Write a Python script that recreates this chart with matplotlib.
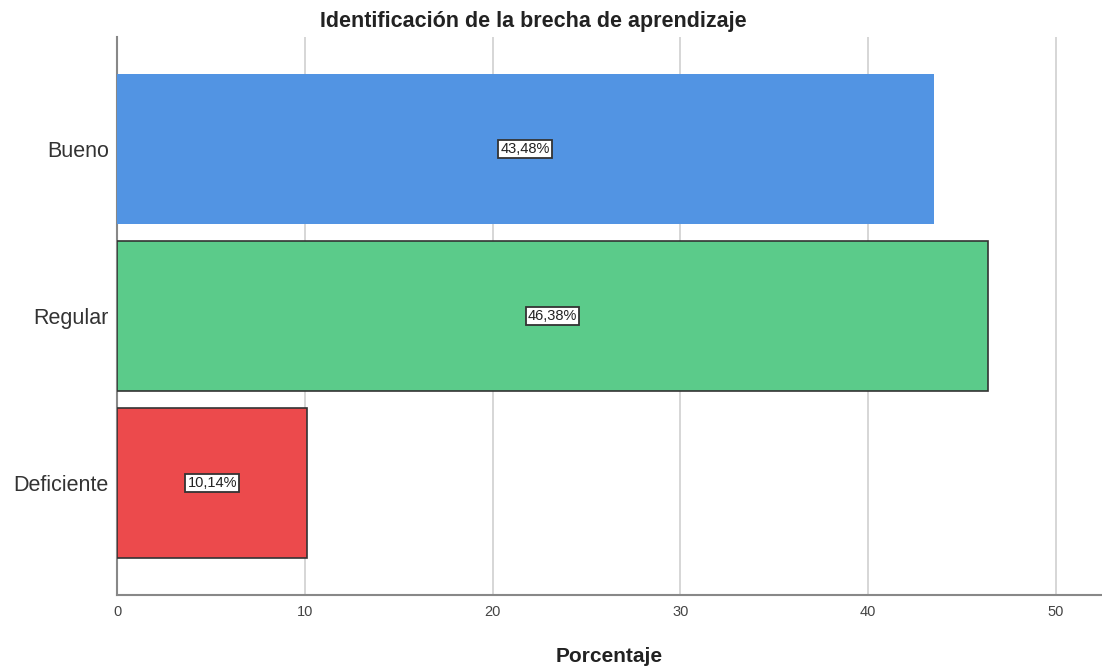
import matplotlib.pyplot as plt

plt.rcParams["font.family"] = ["Liberation Sans", "DejaVu Sans"]

categorias = ["Bueno", "Regular", "Deficiente"]
porcentajes = [43.48, 46.38, 10.14]
colores = ["#5294e3", "#5bcb8a", "#ec4a4c"]
bordes = ["none", "#333333", "#333333"]

fig = plt.figure(figsize=(11.02, 6.66), dpi=100)
ax = fig.add_axes([117 / 1102, 1 - 595 / 666, 1 - 117 / 1102, (595 - 37) / 666])

pos = range(len(categorias))
barras = ax.barh(pos, porcentajes, height=0.9, color=colores,
                 edgecolor=bordes, linewidth=1.2, zorder=3)

# etiqueta con el porcentaje en el centro de cada barra
for b, v in zip(barras, porcentajes):
    ax.text(v / 2, b.get_y() + b.get_height() / 2, f"{v:.2f}%".replace(".", ","),
            ha="center", va="center", fontsize=10.5, color="#222222", zorder=4,
            bbox=dict(boxstyle="square,pad=0.15", fc="white", ec="#333333", lw=1.3))

ax.set_yticks(list(pos))
ax.set_yticklabels(categorias, fontsize=15.5, color="#333333")
ax.set_ylim(2.67, -0.67)
ax.set_xlim(0, 52.45)
ax.set_xticks([0, 10, 20, 30, 40, 50])
ax.tick_params(axis="x", labelsize=10.5, labelcolor="#444444", length=0, pad=7)
ax.tick_params(axis="y", length=0, pad=6)
ax.grid(axis="x", color="#d0d0d0", linewidth=1.2, zorder=0)

for s in ["top", "right"]:
    ax.spines[s].set_visible(False)
for s in ["left", "bottom"]:
    ax.spines[s].set_color("#888888")
    ax.spines[s].set_linewidth(1.5)

ax.set_xlabel("Porcentaje", fontsize=15, fontweight="bold", color="#222222", labelpad=20)
fig.text(533 / 1102, 1 - 22 / 666, "Identificación de la brecha de aprendizaje",
         ha="center", va="center", fontsize=15.5, fontweight="bold", color="#222222")

fig.savefig("out.png", dpi=100)
